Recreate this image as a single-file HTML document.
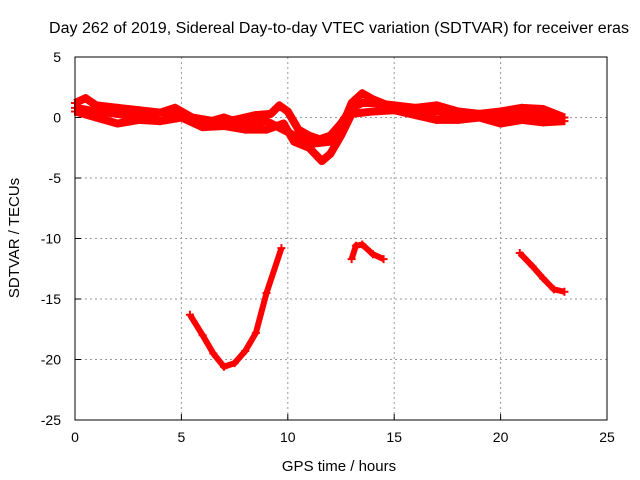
<!DOCTYPE html>
<html><head><meta charset="utf-8"><style>
body{margin:0;background:#fff}
svg{display:block;font-family:"Liberation Sans",sans-serif;font-size:14px}
</style></head><body>
<svg id="c" width="640" height="480">
<text x="339" y="33" text-anchor="middle" textLength="580" lengthAdjust="spacingAndGlyphs" style="font-size:15.5px">Day 262 of 2019, Sidereal Day-to-day VTEC variation (SDTVAR) for receiver eras</text>
<text x="339" y="471" text-anchor="middle" style="font-size:15px">GPS time / hours</text>
<text transform="translate(19,238) rotate(-90)" text-anchor="middle" style="font-size:15px">SDTVAR / TECUs</text>
<g id="grid"></g><g id="data"></g>
<rect x="75" y="57" width="532" height="363" fill="none" stroke="#000" stroke-width="1"/>
</svg>
<script>
const xTicks=[0,5,10,15,20,25];
const yTicks=[5,0,-5,-10,-15,-20,-25];
const bandUpperH=[0,0.5,1,2,3,4,4.7,5.5,6.5,7.5,8.5,9.2,9.6,10,10.5,11,11.5,12,12.5,13,13.5,14,15,16,17,18,19,20,21,22,23];
const bandUpperV=[1.2,1.6,1.0,0.8,0.6,0.4,0.8,0,-0.3,-0.2,0.2,0.3,1,0.5,-1,-1.5,-1.8,-1.5,-0.5,0.8,1.2,1.2,1.0,0.8,1.0,0.5,0.3,0.5,0.8,0.7,0];
const bandLowerH=[0,1,2,3,4,5,6,7,8,9,9.8,10.3,11,11.6,12,12.5,13,14,15,16,17,18,19,20,21,22,23];
const bandLowerV=[0.5,0,-0.5,-0.2,-0.3,0,-0.8,-0.7,-1,-1,-0.5,-2,-2.5,-3.6,-3,-1.5,0.3,0.5,0.6,0.2,-0.2,-0.2,0,-0.5,-0.2,-0.4,-0.3];
const bandMidH=[0,1,2,3,4,5,6,7,8,9,10,11,12,12.6,13,13.5,14,15,16,17,18,19,20,21,22,22.8];
const bandMidV=[0.8,0.5,0.3,0,0.4,0.3,-0.5,0,-0.6,-0.3,-1.2,-2.2,-2.0,-0.5,1.2,2.0,1.5,0.8,0.5,0.5,0.2,0.2,0,0.3,0.2,0];
const arc1H=[5.4,6,6.5,7,7.5,8,8.5,9,9.7];
const arc1V=[-16.3,-18,-19.5,-20.6,-20.3,-19.3,-17.8,-14.5,-10.8];
const arc2H=[13,13.2,13.5,14,14.5];
const arc2V=[-11.7,-10.6,-10.5,-11.3,-11.7];
const arc3H=[20.9,21.5,22,22.5,23];
const arc3V=[-11.2,-12.3,-13.3,-14.2,-14.4];
const X0=75,X1=607,Y0=420,Y1=57;
const sx=h=>X0+(h-0)/25*(X1-X0);
const sy=v=>Y0-(v+25)/30*(Y0-Y1);
const NS="http://www.w3.org/2000/svg";
const svg=document.getElementById('c'),grid=document.getElementById('grid'),dg=document.getElementById('data');
function mk(t,a,p){const e=document.createElementNS(NS,t);for(const k in a)e.setAttribute(k,a[k]);p.appendChild(e);return e;}
xTicks.forEach(t=>{const x=sx(t);
 if(t>0&&t<25){const l=mk('line',{x1:x,x2:x,y1:Y1,y2:Y0,stroke:'#999','stroke-dasharray':'2,3'},grid);
 
 }
 const tk=mk('line',{x1:x,x2:x,y1:Y0,y2:Y0-6,stroke:'#000'},grid);
 
 
 const tx=mk('text',{x:x,y:Y0+22,'text-anchor':'middle'},grid);tx.textContent=t;
 
 });
yTicks.forEach(t=>{const y=sy(t);
 if(t>-25&&t<5){const l=mk('line',{x1:X0,x2:X1,y1:y,y2:y,stroke:'#999','stroke-dasharray':'2,3'},grid);
 
 }
 const tk=mk('line',{x1:X0,x2:X0+6,y1:y,y2:y,stroke:'#000'},grid);
 
 
 const tx=mk('text',{x:X0-14,y:y+5,'text-anchor':'end'},grid);tx.textContent=t;
 
 });
function series(H,V,w,name){
 const pts=H.map((h,i)=>sx(h)+','+sy(V[i])).join(' ');
 const p=mk('polyline',{points:pts,fill:'none',stroke:'#f00','stroke-width':w,'stroke-linejoin':'round'},dg);
 
 
 H.forEach((h,i)=>{const x=sx(h),y=sy(V[i]);
  const m=mk('path',{d:`M${x-4},${y}h8M${x},${y-4}v8`,stroke:'#f00','stroke-width':2},dg);
  
  });
}
series(bandUpperH,bandUpperV,8,'band-upper-series');
series(bandLowerH,bandLowerV,8,'band-lower-series');
series(bandMidH,bandMidV,8,'band-middle-series');
series(arc1H,arc1V,6,'arc-1-series');
series(arc2H,arc2V,6,'arc-2-series');
series(arc3H,arc3V,6,'arc-3-series');
</script>
</body></html>
